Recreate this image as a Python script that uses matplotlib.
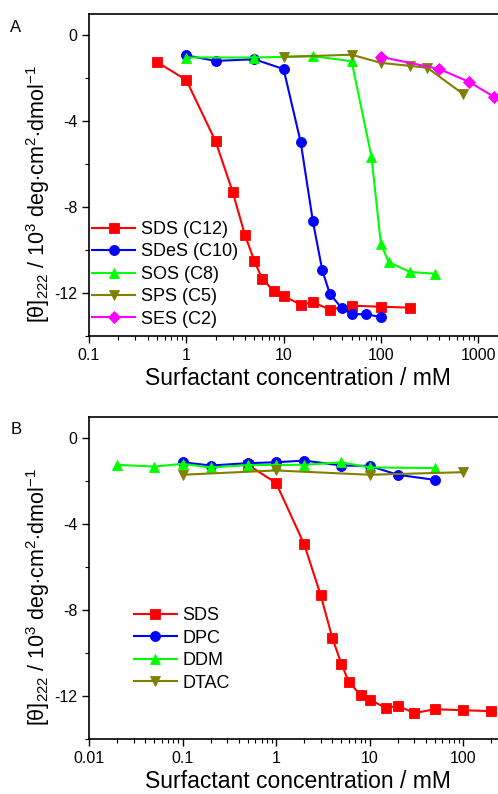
import matplotlib
matplotlib.use("Agg")
import matplotlib.pyplot as plt
from matplotlib.ticker import MultipleLocator, LogLocator, NullFormatter, FuncFormatter

plt.rcParams['font.family'] = ['Liberation Sans', 'DejaVu Sans']
plt.rcParams['mathtext.fontset'] = 'custom'
plt.rcParams['mathtext.rm'] = 'Liberation Sans'
plt.rcParams['mathtext.it'] = 'Liberation Sans:italic'

# --- Panel A: anionic sulfates with different chain length ---
sds_x = [0.5, 1, 2, 3, 4, 5, 6, 8, 10, 15, 20, 30, 50, 100, 200]
sds_y = [-1.24, -2.08, -4.94, -7.3, -9.3, -10.5, -11.34, -11.93, -12.15, -12.55, -12.44, -12.78, -12.6, -12.65, -12.69]

sdes_x = [1, 2, 5, 10, 15, 20, 25, 30, 40, 50, 70, 100]
sdes_y = [-0.93, -1.19, -1.11, -1.57, -4.99, -8.67, -10.96, -12.07, -12.73, -12.99, -13.0, -13.13]

sos_x = [1, 5, 20, 50, 80, 100, 120, 200, 360]
sos_y = [-1.03, -1.03, -0.97, -1.2, -5.66, -9.72, -10.57, -11.03, -11.11]

sps_x = [10, 50, 100, 200, 300, 700]
sps_y = [-1.0, -0.9, -1.28, -1.42, -1.51, -2.73]

ses_x = [100, 400, 800, 1450]
ses_y = [-1.0, -1.57, -2.16, -2.86]

# --- Panel B: other dodecyl surfactants ---
dpc_x = [0.1, 0.2, 0.5, 1, 2, 5, 10, 20, 50]
dpc_y = [-1.12, -1.27, -1.16, -1.12, -1.04, -1.27, -1.29, -1.70, -1.94]

ddm_x = [0.02, 0.05, 0.1, 0.2, 0.5, 1, 2, 5, 10, 50]
ddm_y = [-1.24, -1.32, -1.19, -1.36, -1.25, -1.24, -1.24, -1.12, -1.36, -1.39]

dtac_x = [0.1, 1, 10, 100]
dtac_y = [-1.70, -1.50, -1.70, -1.58]

panel_a = [
    ("SDS (C12)", sds_x, sds_y, "#FF0000", "s"),
    ("SDeS (C10)", sdes_x, sdes_y, "#0000FF", "o"),
    ("SOS (C8)", sos_x, sos_y, "#00FF00", "^"),
    ("SPS (C5)", sps_x, sps_y, "#808000", "v"),
    ("SES (C2)", ses_x, ses_y, "#FF00FF", "D"),
]
panel_b = [
    ("SDS", sds_x, sds_y, "#FF0000", "s"),
    ("DPC", dpc_x, dpc_y, "#0000FF", "o"),
    ("DDM", ddm_x, ddm_y, "#00FF00", "^"),
    ("DTAC", dtac_x, dtac_y, "#808000", "v"),
]

ylabel = r"[θ]$\mathregular{_{222}}$ / 10$\mathregular{^{3}}$ deg$\cdot$cm$\mathregular{^{2}}$$\cdot$dmol$\mathregular{^{-1}}$"

fig = plt.figure(figsize=(4.98, 7.94), dpi=100)
ax_a = fig.add_axes([0.1787, 0.5772, 0.8404, 0.4052])
ax_b = fig.add_axes([0.1787, 0.0689, 0.8410, 0.4063])


def tick_fmt(v, pos):
    if v >= 1:
        return "%d" % v
    return ("%.3f" % v).rstrip("0")


def style(ax, series, xlim, legend_loc, letter):
    for name, x, y, c, m in series:
        ms = 6.4 if m == "D" else 7.2
        ax.plot(x, y, color=c, marker=m, ms=ms, lw=1.5, label=name,
                markeredgecolor=c, markeredgewidth=0.6)
    ax.set_xscale("log")
    ax.set_xlim(*xlim)
    ax.set_ylim(-14, 1)
    ax.yaxis.set_major_locator(MultipleLocator(4))
    ax.yaxis.set_minor_locator(MultipleLocator(2))
    ax.xaxis.set_major_locator(LogLocator(base=10))
    ax.xaxis.set_minor_locator(LogLocator(base=10, subs=range(2, 10)))
    ax.xaxis.set_minor_formatter(NullFormatter())
    ax.xaxis.set_major_formatter(FuncFormatter(tick_fmt))
    ax.yaxis.set_major_formatter(FuncFormatter(lambda v, p: "%d" % v))
    ax.tick_params(which="both", direction="out", top=False, right=False, labelsize=11.5)
    ax.tick_params(which="major", length=5, width=1)
    ax.tick_params(which="minor", length=3, width=0.8)
    for s in ax.spines.values():
        s.set_linewidth(1.2)
    ax.set_xlabel("Surfactant concentration / mM", fontsize=16.5, labelpad=3)
    ax.set_ylabel(ylabel, fontsize=15.5)
    ax.yaxis.set_label_coords(-0.088, 0.44)
    ax.legend(loc="lower left", bbox_to_anchor=legend_loc, frameon=False, fontsize=13,
              handlelength=2.4, handletextpad=0.3, labelspacing=0.3, borderaxespad=0,
              borderpad=0)
    ax.text(-0.188, 0.982, letter, transform=ax.transAxes, fontsize=12, va="top", ha="left")


style(ax_a, panel_a, (0.1, 2000), (0.007, 0.025), "A")
style(ax_b, panel_b, (0.01, 300), (0.107, 0.148), "B")

fig.savefig("out.png", dpi=100)
